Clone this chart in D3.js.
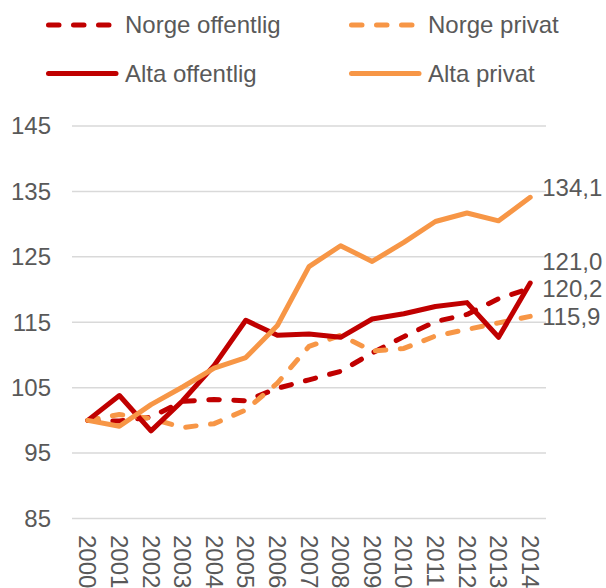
<!DOCTYPE html>
<html>
<head>
<meta charset="utf-8">
<script src="https://cdn.jsdelivr.net/npm/d3@7"></script>
<style>
  html, body { margin: 0; padding: 0; background: #fff; }
  svg { display: block; }
  text { font-family: "Liberation Sans", Arial, sans-serif; fill: #595959; }
</style>
</head>
<body>
<svg id="chart" width="606" height="588"></svg>
<script>
// Index values (2000 = 100)
const years = ["2000","2001","2002","2003","2004","2005","2006","2007","2008","2009","2010","2011","2012","2013","2014"];
const norgeOffentlig = [100, 99.9, 100.5, 102.9, 103.2, 103.0, 104.9, 106.2, 107.5, 110.3, 112.8, 115.1, 116.2, 118.6, 120.2];
const norgePrivat    = [100, 100.9, 100.3, 98.9, 99.5, 101.6, 105.7, 111.3, 113.0, 110.6, 111.0, 112.9, 113.9, 114.9, 115.9];
const altaOffentlig  = [100, 103.8, 98.4, 103.0, 108.4, 115.3, 113.0, 113.2, 112.7, 115.5, 116.3, 117.4, 118.0, 112.7, 121.0];
const altaPrivat     = [100, 99.1, 102.4, 105.1, 108.0, 109.6, 114.5, 123.5, 126.7, 124.3, 127.2, 130.4, 131.7, 130.5, 134.1];
const yTicks = [85, 95, 105, 115, 125, 135, 145];

const RED = "#C00000", ORANGE = "#F79646";
const series = [
  { name: "Norge offentlig", values: norgeOffentlig, color: RED,    dashed: true,  labelDy: 0 },
  { name: "Norge privat",    values: norgePrivat,    color: ORANGE, dashed: true,  labelDy: 0 },
  { name: "Alta offentlig",  values: altaOffentlig,  color: RED,    dashed: false, labelDy: -21 },
  { name: "Alta privat",     values: altaPrivat,     color: ORANGE, dashed: false, labelDy: -10 }
];

const svg = d3.select("#chart");
const plotLeft = 72, plotRight = 546, plotTop = 126, plotBottom = 518.5;

const x = d3.scaleBand().domain(years).range([plotLeft, plotRight]);
const y = d3.scaleLinear().domain([85, 145]).range([plotBottom, plotTop]);
const cx = d => x(d) + x.bandwidth() / 2;

// Gridlines
svg.append("g").selectAll("line").data(yTicks).join("line")
  .attr("x1", plotLeft).attr("x2", plotRight)
  .attr("y1", d => y(d)).attr("y2", d => y(d))
  .attr("stroke", "#D9D9D9").attr("stroke-width", 1.5);

// Y axis labels
svg.append("g").selectAll("text").data(yTicks).join("text")
  .attr("x", 51).attr("y", d => y(d))
  .attr("text-anchor", "end").attr("dy", "0.35em")
  .attr("font-size", 24)
  .text(d => d);

// X axis labels, rotated
svg.append("g").selectAll("text").data(years).join("text")
  .attr("transform", d => `translate(${cx(d)},535) rotate(90)`)
  .attr("text-anchor", "start").attr("dy", "0.35em")
  .attr("font-size", 24)
  .text(d => d);

// Lines
const line = d3.line().x((d, i) => cx(years[i])).y(d => y(d));
svg.append("g").selectAll("path").data(series).join("path")
  .attr("d", s => line(s.values))
  .attr("fill", "none")
  .attr("stroke", s => s.color)
  .attr("stroke-width", 5)
  .attr("stroke-linejoin", "round")
  .attr("stroke-linecap", "round")
  .attr("stroke-dasharray", s => s.dashed ? "10.5,14.5" : null);

// End-of-line value labels
const fmt = v => d3.format(".1f")(v).replace(".", ",");
svg.append("g").selectAll("text").data(series).join("text")
  .attr("x", cx(years[years.length - 1]) + 12)
  .attr("y", s => y(s.values[s.values.length - 1]) + s.labelDy)
  .attr("dy", "0.35em")
  .attr("font-size", 24)
  .text(s => fmt(s.values[s.values.length - 1]));

// Legend
const legendItems = [
  { s: series[0], x: 46,  y: 25 },
  { s: series[1], x: 349, y: 25 },
  { s: series[2], x: 46,  y: 73.6 },
  { s: series[3], x: 349, y: 73.6 }
];
const lg = svg.append("g").selectAll("g").data(legendItems).join("g")
  .attr("transform", d => `translate(${d.x},${d.y})`);
lg.append("line")
  .attr("x1", 2.5).attr("x2", d => d.s.dashed ? 64.5 : 70)
  .attr("y1", 0).attr("y2", 0)
  .attr("stroke", d => d.s.color)
  .attr("stroke-width", 5)
  .attr("stroke-linecap", "round")
  .attr("stroke-dasharray", d => d.s.dashed ? "10.5,14.5" : null);
lg.append("text")
  .attr("x", 79).attr("dy", "0.35em")
  .attr("font-size", 24)
  .text(d => d.s.name);
</script>
</body>
</html>
